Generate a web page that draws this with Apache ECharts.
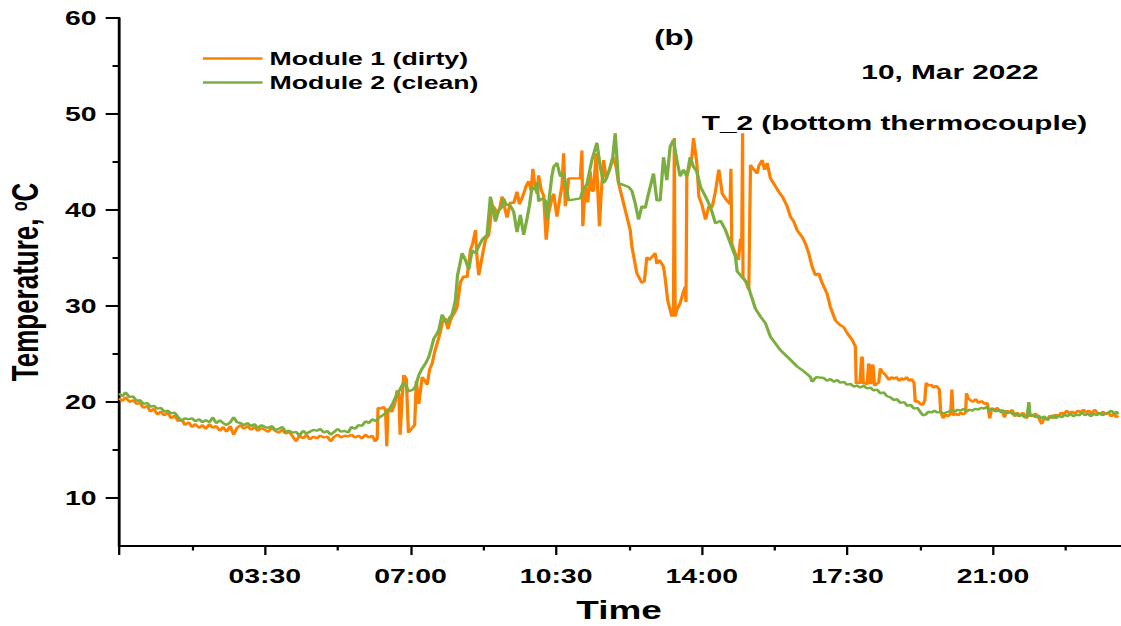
<!DOCTYPE html>
<html>
<head>
<meta charset="utf-8">
<script src="https://cdn.jsdelivr.net/npm/echarts@6.0.0/dist/echarts.min.js"></script>
<style>
html, body { margin: 0; padding: 0; background: #fff; overflow: hidden; }
/* the reference figure is stretched sideways, so the chart is drawn narrow and widened */
#chart { width: 790px; height: 626px; transform: scaleX(1.419); transform-origin: 0 0; }
</style>
</head>
<body>
<div id="chart"></div>
<script>
// [hour of day, temperature °C]
const module1Dirty = [
  [0.00,20.4],[0.08,20.1],[0.15,20.5],[0.25,20.0],[0.33,20.2],[0.42,19.8],[0.50,19.9],[0.58,19.4],[0.67,19.6],[0.75,19.0],
  [0.83,19.3],[0.92,18.7],[1.00,19.0],[1.08,18.6],[1.17,18.9],[1.25,18.3],[1.33,18.6],[1.42,18.0],[1.50,18.2],[1.58,17.6],
  [1.67,17.9],[1.75,17.4],[1.83,17.7],[1.92,17.3],[2.00,17.6],[2.08,17.2],[2.17,17.7],[2.25,17.3],[2.33,17.5],[2.42,17.0],
  [2.50,17.4],[2.58,16.9],[2.67,17.5],[2.75,16.6],[2.83,17.3],[2.92,17.6],[3.00,17.2],[3.08,17.5],[3.17,17.1],[3.25,17.4],
  [3.33,17.0],[3.42,17.3],[3.50,17.1],[3.58,16.9],[3.67,17.3],[3.75,17.0],[3.83,16.8],[3.92,17.1],[4.00,16.7],[4.08,16.9],
  [4.17,16.4],[4.25,15.9],[4.33,16.5],[4.42,16.2],[4.50,16.6],[4.58,16.1],[4.67,16.4],[4.75,16.2],[4.83,16.5],[4.92,16.3],
  [5.00,16.4],[5.08,15.9],[5.17,16.4],[5.25,16.6],[5.33,16.3],[5.42,16.5],[5.50,16.4],[5.58,16.6],[5.67,16.3],[5.75,16.5],
  [5.83,16.2],[5.92,16.6],[6.00,16.3],[6.08,16.5],[6.15,15.9],[6.20,16.2],[6.22,19.4],[6.30,19.3],[6.35,19.5],[6.40,19.2],
  [6.43,15.4],[6.46,19.3],[6.55,19.0],[6.62,19.8],[6.68,21.2],[6.72,20.9],[6.75,16.6],[6.80,20.5],[6.84,22.8],[6.90,22.4],
  [6.95,16.8],[7.02,17.2],[7.10,17.6],[7.14,22.2],[7.20,19.8],[7.28,22.6],[7.35,22.2],[7.40,21.8],[7.46,23.4],[7.52,24.0],
  [7.58,25.2],[7.64,26.1],[7.70,27.0],[7.76,28.2],[7.84,28.7],[7.90,27.6],[7.95,28.4],[8.00,28.9],[8.06,29.3],[8.12,29.9],
  [8.20,32.5],[8.28,33.1],[8.36,33.0],[8.44,35.8],[8.50,36.6],[8.56,37.9],[8.60,35.0],[8.64,33.2],[8.72,35.1],[8.80,36.9],
  [8.88,37.4],[8.96,40.5],[9.02,40.2],[9.08,39.6],[9.14,40.1],[9.20,41.4],[9.26,40.3],[9.32,39.2],[9.40,40.8],[9.48,40.7],
  [9.56,41.9],[9.62,40.6],[9.72,41.7],[9.78,42.5],[9.84,43.0],[9.90,42.0],[9.94,44.3],[9.98,42.8],[10.04,41.7],[10.08,43.6],
  [10.14,42.1],[10.20,41.5],[10.26,36.9],[10.32,39.7],[10.40,41.2],[10.44,41.7],[10.52,39.3],[10.58,41.0],[10.64,42.5],[10.68,45.9],
  [10.72,40.4],[10.76,41.5],[10.80,43.3],[11.08,43.3],[11.12,46.2],[11.14,38.3],[11.20,42.5],[11.26,40.8],[11.32,44.0],[11.36,42.0],
  [11.40,42.0],[11.46,45.9],[11.54,38.3],[11.58,41.5],[11.64,45.2],[11.70,43.3],[11.78,44.2],[11.88,45.5],[11.94,44.5],[12.00,42.8],
  [12.12,40.7],[12.28,37.9],[12.32,36.2],[12.44,33.4],[12.56,32.4],[12.62,32.6],[12.68,35.1],[12.74,34.8],[12.88,35.5],[12.92,34.4],
  [12.98,34.8],[13.08,34.1],[13.12,32.9],[13.18,30.6],[13.28,28.9],[13.32,29.8],[13.34,47.5],[13.36,28.9],[13.40,29.6],[13.48,30.3],
  [13.56,31.5],[13.60,32.0],[13.62,30.4],[13.64,43.5],[13.72,44.8],[13.76,45.5],[13.80,47.5],[13.88,44.9],[13.93,41.4],[14.00,40.6],
  [14.09,39.0],[14.17,40.4],[14.25,40.3],[14.33,42.0],[14.41,44.2],[14.49,41.7],[14.60,41.0],[14.68,40.6],[14.70,44.3],[14.72,36.5],
  [14.80,35.5],[14.88,34.8],[14.93,37.0],[14.96,36.8],[14.98,48.0],[14.99,33.0],[15.06,32.5],[15.13,31.7],[15.17,44.7],[15.23,44.3],
  [15.33,43.8],[15.37,44.6],[15.45,45.2],[15.51,44.2],[15.57,44.9],[15.65,43.3],[15.75,42.6],[15.85,41.9],[15.95,41.3],[16.05,40.4],
  [16.13,39.3],[16.21,38.8],[16.29,37.9],[16.41,37.2],[16.49,36.5],[16.57,35.5],[16.65,34.1],[16.73,33.2],[16.81,33.4],[16.89,32.4],
  [17.01,31.3],[17.09,29.9],[17.21,28.5],[17.33,28.0],[17.41,27.8],[17.49,27.2],[17.61,26.5],[17.69,25.8],[17.71,21.9],[17.76,22.1],
  [17.80,21.9],[17.84,24.7],[17.86,24.6],[17.88,21.9],[17.93,22.0],[17.97,21.8],[18.01,24.0],[18.03,23.8],[18.05,21.9],[18.08,22.0],
  [18.10,23.9],[18.12,23.7],[18.15,21.7],[18.20,21.9],[18.25,22.0],[18.29,23.5],[18.34,23.1],[18.40,22.9],[18.45,22.6],[18.50,22.3],
  [18.56,22.6],[18.62,22.4],[18.68,22.6],[18.74,22.2],[18.80,22.5],[18.86,22.3],[18.92,22.6],[18.98,22.2],[19.04,22.4],[19.10,22.0],
  [19.13,20.0],[19.19,20.1],[19.25,19.8],[19.31,19.7],[19.36,20.2],[19.39,22.0],[19.45,21.7],[19.51,21.8],[19.57,21.5],[19.63,21.7],
  [19.71,21.3],[19.74,19.0],[19.80,18.3],[19.86,18.7],[19.92,18.5],[19.98,18.8],[20.01,21.3],[20.04,18.6],[20.10,18.8],[20.16,18.6],
  [20.22,18.9],[20.28,18.7],[20.34,18.9],[20.36,20.9],[20.40,20.4],[20.45,20.2],[20.52,20.0],[20.58,20.3],[20.65,19.9],[20.72,20.1],
  [20.80,19.8],[20.86,19.9],[20.92,18.3],[20.97,19.4],[21.03,19.1],[21.10,19.4],[21.16,19.0],[21.22,19.2],[21.27,18.4],[21.33,19.1],
  [21.40,18.9],[21.46,19.2],[21.52,18.5],[21.58,18.9],[21.65,18.6],[21.72,18.9],[21.80,18.3],[21.87,18.7],[21.95,18.5],[22.02,18.8],
  [22.10,18.3],[22.17,17.7],[22.23,18.4],[22.30,18.2],[22.37,18.6],[22.43,18.3],[22.50,18.7],[22.57,18.5],[22.64,18.9],[22.70,18.7],
  [22.77,19.1],[22.84,18.8],[22.90,19.0],[22.97,18.8],[23.04,19.1],[23.10,18.9],[23.17,19.2],[23.24,18.9],[23.30,19.1],[23.37,18.8],
  [23.44,19.2],[23.50,18.9],[23.57,18.7],[23.64,19.0],[23.70,18.7],[23.77,18.9],[23.84,18.5],[23.90,18.8],[23.96,18.4],[24.00,18.6]
];

const module2Clean = [
  [0.00,20.9],[0.08,20.6],[0.15,21.0],[0.25,20.5],[0.33,20.6],[0.42,20.1],[0.50,20.2],[0.58,19.8],[0.67,19.9],[0.75,19.5],
  [0.83,19.6],[0.92,19.3],[1.00,19.4],[1.08,19.0],[1.17,19.1],[1.25,18.8],[1.33,18.9],[1.42,18.4],[1.50,18.0],[1.58,18.3],
  [1.67,18.2],[1.75,18.3],[1.83,18.0],[1.92,18.2],[2.00,17.9],[2.08,18.1],[2.17,17.9],[2.25,18.4],[2.33,17.8],[2.42,18.1],
  [2.50,17.8],[2.58,17.6],[2.67,17.9],[2.75,18.4],[2.83,17.9],[2.92,17.8],[3.00,17.6],[3.08,17.8],[3.17,17.5],[3.25,17.7],
  [3.33,17.3],[3.42,17.6],[3.50,17.4],[3.58,17.3],[3.67,17.5],[3.75,17.1],[3.83,17.2],[3.92,17.4],[4.00,16.9],[4.08,17.0],
  [4.17,16.8],[4.25,16.9],[4.33,16.5],[4.42,17.0],[4.50,16.7],[4.58,16.9],[4.67,17.1],[4.75,17.0],[4.83,17.2],[4.92,16.8],
  [5.00,17.0],[5.08,16.6],[5.17,16.9],[5.25,17.2],[5.33,16.9],[5.42,17.0],[5.50,16.8],[5.58,17.4],[5.67,17.2],[5.75,17.6],
  [5.83,17.5],[5.92,18.0],[6.00,17.8],[6.08,18.2],[6.17,18.0],[6.25,18.4],[6.33,18.6],[6.42,18.9],[6.50,19.3],[6.58,19.9],
  [6.63,20.4],[6.72,21.1],[6.83,22.0],[6.90,21.6],[6.95,21.1],[7.07,21.3],[7.13,21.7],[7.20,22.8],[7.28,23.5],[7.36,24.0],
  [7.44,24.7],[7.50,25.6],[7.56,26.6],[7.62,27.0],[7.68,27.5],[7.76,29.1],[7.82,28.6],[7.88,28.2],[7.94,28.8],[8.00,29.1],
  [8.08,30.6],[8.13,33.2],[8.18,34.2],[8.24,35.5],[8.32,34.8],[8.40,33.8],[8.48,35.8],[8.56,35.5],[8.64,36.2],[8.72,36.9],
  [8.84,37.4],[8.92,41.4],[8.98,40.2],[9.04,38.8],[9.12,40.0],[9.18,40.2],[9.24,41.2],[9.30,40.5],[9.36,40.6],[9.42,40.3],
  [9.48,39.8],[9.56,37.7],[9.64,39.5],[9.72,37.4],[9.80,39.1],[9.86,40.5],[9.92,42.4],[10.00,42.1],[10.04,42.9],[10.08,40.9],
  [10.16,41.2],[10.24,41.0],[10.28,39.0],[10.34,41.5],[10.40,43.6],[10.44,44.5],[10.52,44.9],[10.60,43.5],[10.68,43.8],[10.76,41.9],
  [10.80,41.0],[11.08,41.2],[11.14,42.0],[11.24,42.7],[11.30,44.0],[11.36,45.2],[11.48,47.0],[11.56,44.5],[11.64,42.8],[11.70,43.2],
  [11.78,44.2],[11.86,45.5],[11.92,48.0],[12.00,42.8],[12.24,42.4],[12.32,42.0],[12.40,40.7],[12.48,39.0],[12.56,40.4],[12.64,40.2],
  [12.72,41.7],[12.84,43.8],[12.92,41.0],[13.00,41.0],[13.08,45.5],[13.16,43.1],[13.24,46.6],[13.32,47.3],[13.40,45.2],[13.48,43.5],
  [13.56,44.2],[13.64,43.5],[13.72,45.5],[13.80,44.5],[13.88,44.0],[13.97,42.4],[14.09,41.4],[14.21,40.3],[14.33,38.6],[14.45,38.9],
  [14.57,37.9],[14.69,36.5],[14.81,35.1],[14.85,33.6],[14.97,33.0],[15.09,32.4],[15.17,31.3],[15.29,29.7],[15.41,28.9],[15.53,28.2],
  [15.65,26.8],[15.77,26.1],[15.89,25.4],[16.01,24.9],[16.13,24.4],[16.29,23.7],[16.45,23.2],[16.61,22.6],[16.65,22.1],[16.75,22.6],
  [16.93,22.5],[17.01,22.2],[17.09,22.4],[17.17,22.1],[17.25,22.3],[17.33,22.0],[17.41,22.1],[17.49,21.8],[17.57,21.9],[17.65,21.6],
  [17.73,21.7],[17.81,21.5],[17.89,21.7],[17.97,21.4],[18.05,21.5],[18.13,21.2],[18.21,21.3],[18.29,20.9],[18.37,21.0],[18.45,20.6],
  [18.53,20.5],[18.61,20.2],[18.69,20.3],[18.77,19.9],[18.86,20.0],[18.94,19.6],[19.02,19.7],[19.10,19.3],[19.18,19.4],[19.26,18.9],
  [19.32,18.6],[19.38,18.7],[19.45,19.0],[19.52,18.9],[19.59,19.1],[19.66,18.9],[19.73,19.0],[19.80,18.8],[19.87,18.9],[19.94,19.0],
  [20.01,19.2],[20.08,19.0],[20.15,19.2],[20.22,19.1],[20.29,19.3],[20.36,19.0],[20.43,19.2],[20.50,19.1],[20.57,19.3],[20.64,19.2],
  [20.71,19.4],[20.78,19.3],[20.85,19.5],[20.92,19.1],[20.99,19.3],[21.06,19.0],[21.13,19.2],[21.20,18.9],[21.27,19.1],[21.34,18.8],
  [21.41,19.0],[21.48,18.7],[21.55,18.8],[21.62,18.5],[21.69,18.7],[21.76,18.4],[21.82,18.6],[21.86,20.0],[21.89,18.5],[21.95,18.7],
  [22.02,18.4],[22.09,18.6],[22.16,18.3],[22.23,18.5],[22.30,18.1],[22.37,18.4],[22.44,18.6],[22.51,18.3],[22.58,18.6],[22.65,18.4],
  [22.72,18.7],[22.79,18.5],[22.86,18.8],[22.93,18.5],[23.00,18.7],[23.07,18.6],[23.14,18.9],[23.21,18.6],[23.28,18.8],[23.35,18.5],
  [23.42,18.8],[23.49,18.6],[23.56,18.9],[23.63,18.6],[23.70,18.8],[23.77,18.9],[23.84,19.1],[23.91,18.8],[23.97,19.0],[24.00,18.7]
];

const seriesNames = ['Module 1 (dirty)', 'Module 2 (clean)'];
const seriesColors = ['#ff8000', '#7aae3e'];
const xTickLabels = ['03:30', '07:00', '10:30', '14:00', '17:30', '21:00'];
const yTickValues = [10, 20, 30, 40, 50, 60];
const yMinorTicks = [15, 25, 35, 45, 55];

const fontFamily = "'Liberation Sans', Arial, sans-serif";

function toHours(label) {
  const parts = label.split(':');
  return Number(parts[0]) + Number(parts[1]) / 60;
}

function toClock(h) {
  const hh = Math.floor(h + 1e-6);
  const mm = Math.round((h - hh) * 60);
  return String(hh).padStart(2, '0') + ':' + String(mm).padStart(2, '0');
}

const chart = echarts.init(document.getElementById('chart'), null, { renderer: 'svg' });

const black = '#000';
const labelStyle = { fontFamily: fontFamily, fontWeight: 'bold', fontSize: 20, color: black };

const option = {
  animation: false,
  backgroundColor: '#fff',
  grid: { left: 84, right: -12.5, top: 18, bottom: 80, outerBoundsMode: 'none' },
  legend: {
    orient: 'vertical',
    left: 143,
    top: 49,
    padding: 0,
    icon: 'rect',
    itemWidth: 42,
    itemHeight: 2.4,
    itemGap: 5,
    textStyle: { fontFamily: fontFamily, fontWeight: 'bold', fontSize: 18.8, color: black, lineHeight: 19 },
    data: seriesNames
  },
  graphic: [
    { type: 'text', x: 461, y: 38, style: { text: '(b)', font: 'bold 22px ' + fontFamily, fill: black, verticalAlign: 'middle' } },
    { type: 'text', x: 607, y: 72, style: { text: '10, Mar 2022', font: 'bold 21px ' + fontFamily, fill: black, verticalAlign: 'middle' } },
    { type: 'text', x: 494.5, y: 123, style: { text: 'T_2 (bottom thermocouple)', font: 'bold 21px ' + fontFamily, fill: black, verticalAlign: 'middle' } }
  ],
  xAxis: {
    type: 'value',
    min: 0,
    max: 24.5,
    interval: 3.5,
    name: 'Time',
    nameLocation: 'middle',
    nameGap: 51,
    nameTextStyle: { fontFamily: fontFamily, fontWeight: 'bold', fontSize: 26, color: black, padding: [0, 14, 0, 0] },
    axisLine: { show: true, onZero: false, lineStyle: { color: black, width: 2 } },
    axisTick: { show: true, length: 9, lineStyle: { color: black, width: 1.6 } },
    minorTick: { show: true, splitNumber: 2, length: 4.5, lineStyle: { color: black, width: 1.6 } },
    axisLabel: Object.assign({
      margin: 20,
      customValues: xTickLabels.map(toHours),
      formatter: toClock
    }, labelStyle),
    splitLine: { show: false },
    minorSplitLine: { show: false }
  },
  yAxis: [
    {
      type: 'value',
      min: 5,
      max: 60,
      interval: 5,
      name: 'Temperature, {sup|o}C',
      nameLocation: 'middle',
      nameGap: 53,
      nameTextStyle: {
        fontFamily: fontFamily, fontWeight: 'bold', fontSize: 26, color: black,
        rich: { sup: { fontFamily: fontFamily, fontWeight: 'bold', fontSize: 16, color: black, verticalAlign: 'top' } }
      },
      axisLine: { show: true, onZero: false, lineStyle: { color: black, width: 2 } },
      axisTick: { show: true, length: 9.5, customValues: yTickValues, lineStyle: { color: black, width: 2 } },
      axisLabel: Object.assign({ margin: 16, customValues: yTickValues }, labelStyle),
      splitLine: { show: false }
    },
    {
      type: 'value',
      min: 5,
      max: 60,
      interval: 5,
      position: 'left',
      axisLine: { show: false },
      axisTick: { show: true, length: 4.7, customValues: yMinorTicks, lineStyle: { color: black, width: 2 } },
      axisLabel: { show: false },
      splitLine: { show: false }
    }
  ],
  series: [
    {
      name: seriesNames[0],
      type: 'line',
      data: module1Dirty,
      symbol: 'none',
      color: seriesColors[0],
      lineStyle: { color: seriesColors[0], width: 2.3 }
    },
    {
      name: seriesNames[1],
      type: 'line',
      data: module2Clean,
      symbol: 'none',
      color: seriesColors[1],
      lineStyle: { color: seriesColors[1], width: 2.3 }
    }
  ]
};

chart.setOption(option);
</script>
</body>
</html>
